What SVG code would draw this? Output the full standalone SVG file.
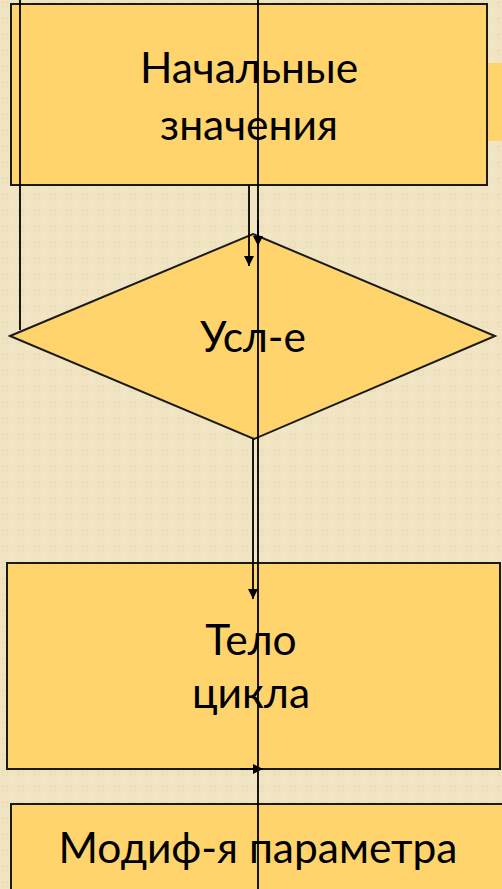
<svg xmlns="http://www.w3.org/2000/svg" width="502" height="889" viewBox="0 0 502 889">
<style>
.box{fill:#FFD46C;stroke:#1a1a1a;stroke-width:2}
.lbl{font-family:Lato,"Open Sans","Noto Sans",sans-serif;font-size:42.5px;fill:#000;text-anchor:middle}
.con{stroke:#000;stroke-width:1.8;fill:none}
</style>
<defs>
<pattern id="bg" width="16" height="16" patternUnits="userSpaceOnUse">
<rect width="16" height="16" fill="#F0E4C2"/>
<rect x="2" y="2" width="5" height="5" fill="none" stroke="#EADCB3" stroke-width="1"/>
<circle cx="12" cy="12" r="2.5" fill="none" stroke="#F5EBCF" stroke-width="1"/>
</pattern>
<marker id="ah" markerWidth="10" markerHeight="14" refX="10" refY="5" orient="auto" markerUnits="userSpaceOnUse" viewBox="0 0 10 10">
<path d="M0,0 L10,5 L0,10 Z" fill="#000"/>
</marker>
</defs>
<rect width="502" height="889" fill="url(#bg)"/>
<rect x="488" y="63" width="14" height="78" fill="#FFD46C"/>
<g id="start">
<rect class="box" x="11" y="4" width="476" height="181"/>
<text class="lbl" x="249" y="83">Начальные</text>
<text class="lbl" x="249" y="140">значения</text>
</g>
<g id="cond">
<polygon class="box" points="10,336 253,234 495,336 254,439"/>
<text class="lbl" x="253" y="352">Усл-е</text>
</g>
<g id="body">
<rect class="box" x="7" y="563" width="493" height="206"/>
<text class="lbl" x="251" y="655">Тело</text>
<text class="lbl" x="251" y="708">цикла</text>
</g>
<g id="modify">
<rect class="box" x="11" y="804" width="500" height="100"/>
<text class="lbl" x="258" y="863">Модиф-я параметра</text>
</g>
<g id="connectors">
<line class="con" x1="20" y1="0" x2="20" y2="330"/>
<line class="con" x1="258" y1="0" x2="258" y2="889"/>
<line class="con" x1="258" y1="220" x2="258" y2="246" marker-end="url(#ah)"/>
<line class="con" x1="249" y1="185" x2="249" y2="266" marker-end="url(#ah)"/>
<line class="con" x1="253" y1="439" x2="253" y2="599" marker-end="url(#ah)"/>
<line class="con" x1="240" y1="769" x2="263" y2="769" marker-end="url(#ah)"/>
</g>
</svg>
